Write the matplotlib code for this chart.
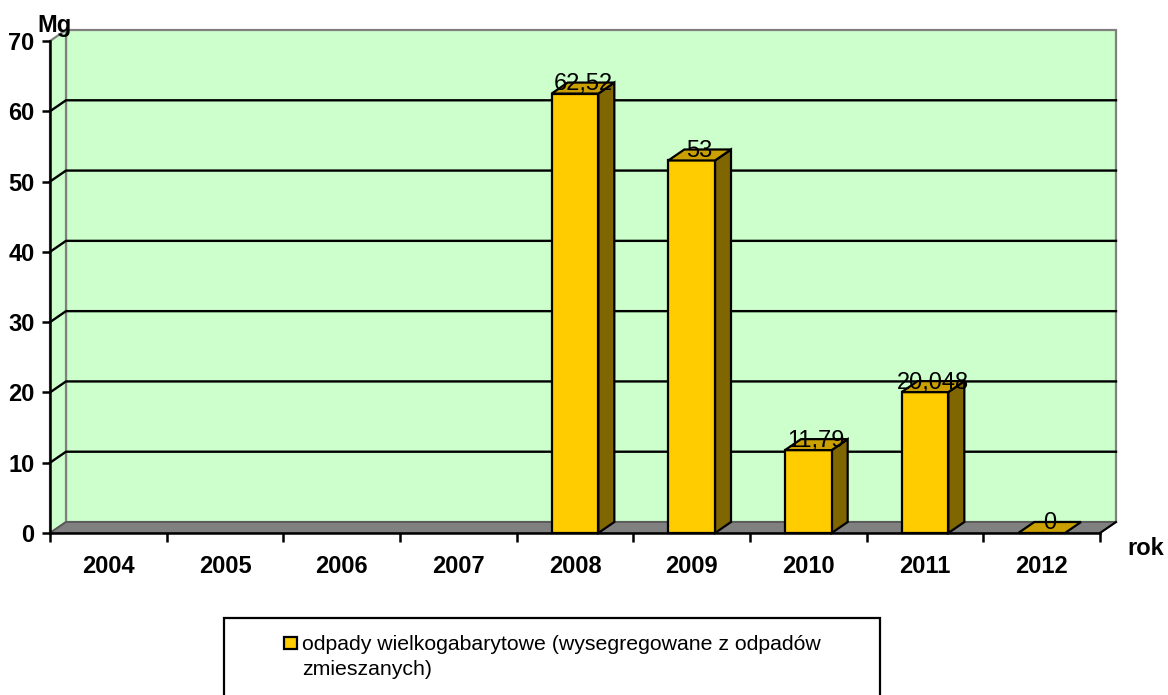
import matplotlib
matplotlib.use("Agg")
import matplotlib.pyplot as plt
from matplotlib.patches import Polygon, Rectangle
import numpy as np

plt.rcParams['font.family'] = ['Liberation Sans', 'DejaVu Sans']

# ---- data ----
years = ["2004", "2005", "2006", "2007", "2008", "2009", "2010", "2011", "2012"]
values = [None, None, None, None, 62.52, 53, 11.79, 20.048, 0]
labels = ["", "", "", "", "62,52", "53", "11,79", "20,048", "0"]
y_ticks = [0, 10, 20, 30, 40, 50, 60, 70]
series_name = "odpady wielkogabarytowe (wysegregowane z odpadów\nzmieszanych)"
y_unit = "Mg"
x_unit = "rok"

W, H = 1168, 695
fig = plt.figure(figsize=(W / 100, H / 100), dpi=100)
fig.patch.set_facecolor("white")

def fx(px):
    return px / W

def fy(py):
    return (H - py) / H

# axes: front plane
ax = fig.add_axes([fx(50), fy(533), fx(1100) - fx(50), fy(41) - fy(533)])
n = len(years)
ymax = 70
ax.set_xlim(0, n)
ax.set_ylim(0, ymax)
ax.set_facecolor("none")

# depth offsets in data units (≈16 px right, 11 px up)
DX = 16 / 1050 * n
DY = 11 / 492 * ymax

wall = "#CCFFCC"
gray = "#808080"

# back wall
ax.add_patch(Polygon([(DX, DY), (n + DX, DY), (n + DX, ymax + DY), (DX, ymax + DY)],
                     closed=True, facecolor=wall, edgecolor=gray, lw=1.6,
                     clip_on=False, zorder=0.5))
# left wall
ax.add_patch(Polygon([(0, 0), (DX, DY), (DX, ymax + DY), (0, ymax)],
                     closed=True, facecolor=wall, edgecolor=gray, lw=1.6,
                     clip_on=False, zorder=0.6))
# floor
ax.add_patch(Polygon([(0, 0), (n, 0), (n + DX, DY), (DX, DY)],
                     closed=True, facecolor=gray, edgecolor="#555555", lw=1.2,
                     clip_on=False, zorder=0.7))
ax.plot([n, n + DX], [0, DY], color="black", lw=1.5, clip_on=False, zorder=0.8)

# gridlines
for v in y_ticks[1:-1]:
    ax.plot([0, DX, n + DX], [v, v + DY, v + DY], color="black", lw=1.7,
            clip_on=False, zorder=0.9)

# bars
bw = 0.40
front = "#FFCC00"
top = "#C9A000"
side = "#806600"
for i, v in enumerate(values):
    if v is None:
        continue
    c = i + 0.5
    x0, x1 = c - bw / 2, c + bw / 2
    if v > 0:
        ax.add_patch(Polygon([(x1, 0), (x1 + DX, DY), (x1 + DX, v + DY), (x1, v)],
                             closed=True, facecolor=side, edgecolor="black", lw=1.6,
                             clip_on=False, zorder=2))
        ax.add_patch(Rectangle((x0, 0), bw, v, facecolor=front, edgecolor="black",
                               lw=1.6, clip_on=False, zorder=2.1))
    ax.add_patch(Polygon([(x0, v), (x1, v), (x1 + DX, v + DY), (x0 + DX, v + DY)],
                         closed=True, facecolor=top, edgecolor="black", lw=1.6,
                         clip_on=False, zorder=2.2))
    ax.text(c + DX / 2, v + 0.5, labels[i], ha="center", va="baseline",
            fontsize=17, color="black", zorder=3)

# spines & ticks
for s in ["top", "right"]:
    ax.spines[s].set_visible(False)
for s in ["left", "bottom"]:
    ax.spines[s].set_linewidth(1.8)
    ax.spines[s].set_zorder(2.5)

ax.set_yticks(y_ticks)
ax.set_yticklabels([str(t) for t in y_ticks], fontsize=17, fontweight="bold")
ax.tick_params(axis="y", direction="out", length=6, width=1.8, pad=5)

ax.set_xticks(np.arange(0, n + 1))
ax.set_xticklabels([])
ax.tick_params(axis="x", which="major", direction="out", length=6.5, width=1.8)
ax.set_xticks(np.arange(n) + 0.5, minor=True)
ax.set_xticklabels(years, minor=True, fontsize=17, fontweight="bold")
ax.tick_params(axis="x", which="minor", length=0, pad=15.5)

# axis unit labels
fig.text(fx(37), fy(32), y_unit, fontsize=17, fontweight="bold", ha="left", va="baseline")
fig.text(fx(1127), fy(555), x_unit, fontsize=17, fontweight="bold", ha="left", va="baseline")

# legend (box extends past bottom edge)
fig.patches.append(Rectangle((fx(224), fy(705)), fx(880) - fx(224), fy(618) - fy(705),
                             transform=fig.transFigure, facecolor="white",
                             edgecolor="black", lw=1.6, zorder=1))
fig.patches.append(Rectangle((fx(284), fy(649)), fx(297) - fx(284), fy(637) - fy(649),
                             transform=fig.transFigure, facecolor=front,
                             edgecolor="black", lw=1.6, zorder=2))
for k, line in enumerate(series_name.split("\n")):
    fig.text(fx(302), fy(650 + 25 * k), line, fontsize=15.3, ha="left",
             va="baseline", color="black")

fig.savefig("out.png", dpi=100)
